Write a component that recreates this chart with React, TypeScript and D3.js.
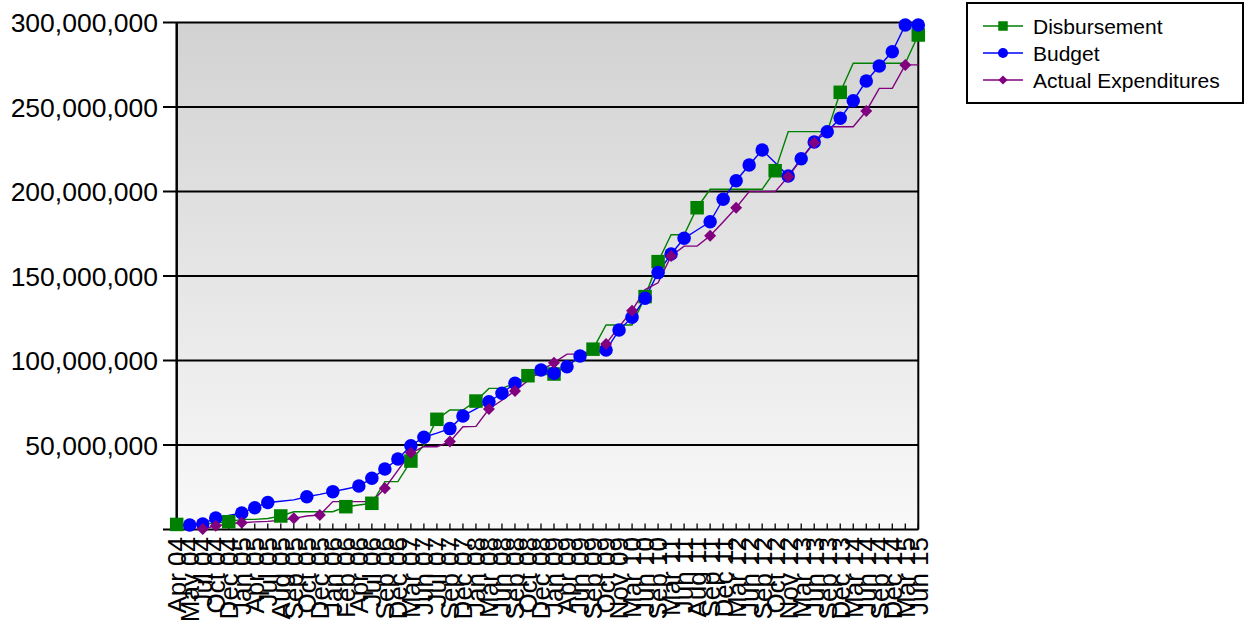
import React, { useEffect, useRef } from 'react';
import * as d3 from 'd3';

// category labels on the x axis (one per reporting date)
const categories = [
  'Apr 04', 'May 04', 'Jul 04', 'Oct 04', 'Dec 04', 'Jan 05', 'Apr 05', 'Jul 05', 'Aug 05', 'Sep 05',
  'Oct 05', 'Dec 05', 'Jan 06', 'Feb 06', 'Apr 06', 'Jul 06', 'Sep 06', 'Dec 06', 'Mar 07', 'Jun 07',
  'Jul 07', 'Sep 07', 'Dec 07', 'Jan 08', 'Mar 08', 'Jun 08', 'Sep 08', 'Oct 08', 'Dec 08', 'Jan 09',
  'Apr 09', 'Jun 09', 'Sep 09', 'Oct 09', 'Nov 09', 'Mar 10', 'Jun 10', 'Sep 10', 'Mar 11', 'Jun 11',
  'Aug 11', 'Sep 11', 'Dec 11', 'Mar 12', 'Jun 12', 'Sep 12', 'Oct 12', 'Nov 12', 'Mar 13', 'Jun 13',
  'Sep 13', 'Dec 13', 'Mar 14', 'Jun 14', 'Sep 14', 'Dec 14', 'Mar 15', 'Jun 15'
];

// values in millions, one per category
const disbursement = [
  3.0, 3.2, 3.4, 3.8, 4.6, 6.0, 6.0, 6.5, 8.0, 10.5,
  10.5, 10.5, 10.5, 13.5, 14.5, 15.5, 28.3, 28.3, 40.5, 50.0,
  65.2, 70.7, 70.7, 76.0, 83.5, 83.5, 86.5, 91.0, 91.5, 92.0,
  97.0, 102.0, 106.7, 121.0, 121.0, 121.0, 137.8, 158.5, 174.4, 174.4,
  190.4, 201.3, 201.3, 201.3, 201.3, 201.3, 212.3, 235.4, 235.4, 235.4,
  235.4, 258.7, 275.9, 275.9, 275.9, 275.9, 275.9, 292.6
];
const budget = [
  null, 2.7, 3.3, 6.8, 8.3, 9.8, 12.9, 16.0, 16.7, 17.5,
  19.4, 20.8, 22.4, 24.0, 25.7, 30.3, 35.8, 41.7, 49.6, 54.6,
  57.0, 59.7, 67.2, 71.4, 75.6, 80.6, 86.5, 90.5, 94.4, 92.4,
  96.3, 102.7, 104.4, 106.2, 118.0, 125.6, 136.8, 152.0, 163.0, 172.3,
  177.2, 182.1, 195.4, 206.4, 215.7, 224.6, 217.0, 209.2, 219.4, 229.3,
  235.4, 243.3, 253.7, 265.4, 274.3, 282.7, 298.5, 298.5
];
const actual = [
  null, null, 0.3, 2.2, 3.3, 4.0, 4.5, 4.8, 5.5, 6.6,
  8.0, 8.6, 16.5, 16.5, 16.5, 16.5, 24.4, 35.0, 45.4, 49.0,
  49.0, 52.0, 60.8, 61.0, 71.3, 76.5, 82.0, 88.0, 94.0, 98.7,
  103.8, 103.8, 106.0, 109.8, 120.0, 129.5, 142.0, 146.0, 161.8, 167.7,
  167.7, 173.8, 182.0, 190.4, 199.9, 199.9, 199.9, 208.8, 219.0, 228.9,
  238.3, 238.3, 238.3, 247.6, 261.0, 261.0, 274.9, 274.9
];

// category indexes where a marker is drawn
const disbursementMarks = [0, 4, 8, 13, 15, 18, 20, 23, 27, 29, 32, 36, 37, 40, 46, 51, 57];
const budgetMarks = [
  1, 2, 3, 5, 6, 7, 10, 12, 14, 15, 16, 17, 18, 19, 21, 22, 24, 25, 26, 28, 29, 30, 31, 33, 34, 35,
  36, 37, 38, 39, 41, 42, 43, 44, 45, 47, 48, 49, 50, 51, 52, 53, 54, 55, 56, 57
];
const actualMarks = [2, 3, 5, 9, 11, 16, 18, 21, 24, 26, 29, 33, 35, 38, 41, 43, 47, 49, 53, 56];

// gridlines every 50M; the 0 line carries no label
const yTicks = [0, 50, 100, 150, 200, 250, 300];

const FONT = '"Liberation Sans", Arial, sans-serif';

type Shape = 'square' | 'circle' | 'diamond';

const series: { name: string; color: string; shape: Shape; values: (number | null)[]; marks: number[] }[] = [
  { name: 'Disbursement', color: '#008000', shape: 'square', values: disbursement, marks: disbursementMarks },
  { name: 'Budget', color: '#0000ff', shape: 'circle', values: budget, marks: budgetMarks },
  { name: 'Actual Expenditures', color: '#800080', shape: 'diamond', values: actual, marks: actualMarks }
];

const W = 1245;
const H = 622;

function drawMarker(g: d3.Selection<SVGGElement, unknown, null, undefined>, shape: Shape, x: number, y: number, size: number, color: string) {
  if (shape === 'square') {
    g.append('rect')
      .attr('x', x - size / 2).attr('y', y - size / 2)
      .attr('width', size).attr('height', size)
      .attr('fill', color);
  } else if (shape === 'circle') {
    g.append('circle')
      .attr('cx', x).attr('cy', y).attr('r', size / 2)
      .attr('fill', color);
  } else {
    const h = size / 2;
    g.append('path')
      .attr('d', `M${x},${y - h}L${x + h},${y}L${x},${y + h}L${x - h},${y}Z`)
      .attr('fill', color);
  }
}

const App: React.FC = () => {
  const svgRef = useRef<SVGSVGElement>(null);

  useEffect(() => {
    if (!svgRef.current) return;
    const svg = d3.select(svgRef.current);
    svg.selectAll('*').remove();

    const plot = { left: 176.7, right: 918.3, top: 22.5, bottom: 529.5 };

    const x = d3.scalePoint<number>()
      .domain(d3.range(categories.length))
      .range([plot.left, plot.right]);

    const y = d3.scaleLinear()
      .domain([0, 300])
      .range([plot.bottom, plot.top]);

    // background gradient
    const defs = svg.append('defs');
    const grad = defs.append('linearGradient')
      .attr('id', 'bg').attr('x1', 0).attr('y1', 0).attr('x2', 0).attr('y2', 1);
    grad.append('stop').attr('offset', '0%').attr('stop-color', '#d2d2d2');
    grad.append('stop').attr('offset', '100%').attr('stop-color', '#f9f9f9');

    svg.append('rect')
      .attr('x', plot.left).attr('y', plot.top)
      .attr('width', plot.right - plot.left).attr('height', plot.bottom - plot.top)
      .attr('fill', 'url(#bg)');

    // grid lines + y labels
    const grid = svg.append('g');
    yTicks.forEach(t => {
      grid.append('line')
        .attr('x1', 163).attr('x2', plot.right)
        .attr('y1', y(t)).attr('y2', y(t))
        .attr('stroke', '#000').attr('stroke-width', 2);
      if (t === 0) return;
      grid.append('text')
        .attr('x', 158).attr('y', y(t))
        .attr('dy', '0.36em')
        .attr('text-anchor', 'end')
        .style('font-family', FONT)
        .style('font-size', '26.5px')
        .style('fill', '#000')
        .text(d3.format(',')(t * 1e6));
    });

    // plot frame
    svg.append('line')
      .attr('x1', plot.left).attr('x2', plot.left)
      .attr('y1', plot.top).attr('y2', plot.bottom)
      .attr('stroke', '#000').attr('stroke-width', 2.5);
    svg.append('line')
      .attr('x1', plot.right).attr('x2', plot.right)
      .attr('y1', plot.top).attr('y2', plot.bottom)
      .attr('stroke', '#000').attr('stroke-width', 2);

    // x ticks (pointing into the plot) and labels
    const xAxis = svg.append('g');
    categories.forEach((c, i) => {
      xAxis.append('line')
        .attr('x1', x(i)!).attr('x2', x(i)!)
        .attr('y1', plot.bottom).attr('y2', plot.bottom - 6)
        .attr('stroke', '#000').attr('stroke-width', 1.3);
      xAxis.append('text')
        .attr('transform', `translate(${x(i)},537) rotate(-90)`)
        .attr('dy', '0.36em')
        .attr('text-anchor', 'end')
        .style('font-family', FONT)
        .style('font-size', '26px')
        .style('fill', '#000')
        .text(c);
    });

    // series lines first, then markers on top
    series.forEach(s => {
      const line = d3.line<number | null>()
        .defined(d => d !== null)
        .x((_, i) => x(i)!)
        .y(d => y(d as number));
      svg.append('path')
        .datum(s.values)
        .attr('d', line)
        .attr('fill', 'none')
        .attr('stroke', s.color)
        .attr('stroke-width', 1.4);
    });
    series.forEach(s => {
      const g = svg.append('g');
      const size = s.shape === 'diamond' ? 12 : 13.5;
      s.marks.forEach(i => {
        const v = s.values[i];
        if (v === null) return;
        drawMarker(g, s.shape, x(i)!, y(v), size, s.color);
      });
    });

    // legend
    const lg = svg.append('g');
    lg.append('rect')
      .attr('x', 967).attr('y', 3)
      .attr('width', 276).attr('height', 100)
      .attr('fill', '#fff')
      .attr('stroke', '#000').attr('stroke-width', 2);
    series.forEach((s, i) => {
      const ly = 26 + i * 27;
      lg.append('line')
        .attr('x1', 983).attr('x2', 1023)
        .attr('y1', ly).attr('y2', ly)
        .attr('stroke', s.color).attr('stroke-width', 1.4);
      const gm = lg.append('g');
      drawMarker(gm, s.shape, 1003, ly, s.shape === 'circle' ? 10 : s.shape === 'square' ? 9.5 : 9, s.color);
      lg.append('text')
        .attr('x', 1033).attr('y', ly)
        .attr('dy', '0.36em')
        .style('font-family', FONT)
        .style('font-size', '21px')
        .style('fill', '#000')
        .text(s.name);
    });
  }, []);

  return (
    <svg
      ref={svgRef}
      width={W}
      height={H}
      style={{ position: 'absolute', left: 0, top: 0, display: 'block', background: '#fff' }}
    />
  );
};

export default App;
